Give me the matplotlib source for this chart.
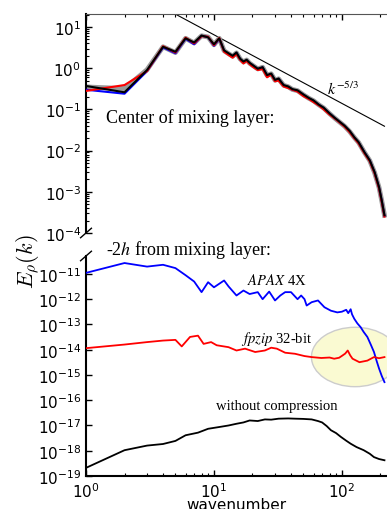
"""Two-panel density spectrum: centre of mixing layer vs -2h, with compression variants."""

import matplotlib

matplotlib.use("Agg")
import matplotlib.pyplot as plt
from matplotlib.patches import Ellipse

# --- top panel: centre of mixing layer -------------------------------------
k_top = [1, 2, 3, 4, 5, 6, 7, 8, 9, 10, 11, 12, 13, 14, 15, 16, 17, 18, 19, 20,
         22, 24, 26, 28, 30, 32, 35, 38, 41, 45, 50, 55, 60, 66, 72, 80, 88, 96,
         105, 115, 125, 135, 150, 165, 180, 195, 205, 215]
E_black = [0.37, 0.26, 0.90, 3.3, 2.5, 5.3, 4.2, 6.2, 5.6, 3.8, 5.3, 2.7, 2.3,
           2.0, 2.4, 1.7, 1.45, 1.6, 1.35, 1.2, 0.97, 1.06, 0.68, 0.74, 0.52,
           0.56, 0.39, 0.36, 0.31, 0.29, 0.23, 0.19, 0.165, 0.13, 0.11, 0.08,
           0.062, 0.05, 0.04, 0.03, 0.021, 0.016, 0.0091, 0.0058, 0.003,
           0.0013, 0.0006, 0.00027]
E_red = [0.28, 0.39, 0.85, 3.4, 2.4, 5.5, 4.0, 6.0, 5.8, 3.6, 5.4, 2.5, 2.1,
         1.8, 2.2, 1.6, 1.3, 1.5, 1.25, 1.1, 0.9, 0.95, 0.6, 0.7, 0.48, 0.5,
         0.36, 0.33, 0.3, 0.27, 0.21, 0.18, 0.15, 0.125, 0.1, 0.075, 0.06,
         0.048, 0.038, 0.028, 0.02, 0.015, 0.0086, 0.0055, 0.0028, 0.0012,
         0.00055, 0.00025]
E_blue = [0.30, 0.24, 0.85, 3.2, 2.3, 5.2, 3.8, 6.1, 5.7, 3.5, 5.2, 2.6, 2.2,
          1.95, 2.35, 1.65, 1.4, 1.55, 1.3, 1.18, 0.95, 1.04, 0.66, 0.72, 0.5,
          0.55, 0.38, 0.35, 0.3, 0.28, 0.225, 0.185, 0.16, 0.128, 0.108,
          0.079, 0.061, 0.049, 0.039, 0.029, 0.0205, 0.0155, 0.009, 0.0057,
          0.0029, 0.00125, 0.00058, 0.00026]
E_gray = [0.35, 0.32, 0.92, 3.3, 2.4, 5.3, 4.1, 6.1, 5.7, 3.7, 5.3, 2.65, 2.25,
          1.95, 2.35, 1.68, 1.42, 1.58, 1.32, 1.18, 0.96, 1.05, 0.67, 0.73,
          0.51, 0.55, 0.385, 0.355, 0.305, 0.285, 0.226, 0.187, 0.162, 0.129,
          0.108, 0.079, 0.061, 0.049, 0.039, 0.029, 0.0207, 0.0157, 0.009,
          0.0057, 0.0029, 0.00127, 0.00059, 0.00027]
ref_k = [5, 215]
ref_E = [20.5, 0.039]

# --- bottom panel: -2h from mixing layer -----------------------------------
k_apax = [1, 2, 3, 4, 5, 6, 7, 8, 9, 10, 12, 13, 15, 17, 19, 22, 24, 27, 30,
          33, 36, 40, 45, 48, 51, 53, 58, 65, 73, 82, 92, 100, 104, 108, 112,
          117, 120, 125, 132, 140, 148, 158, 168, 178, 187, 195, 205, 215]
E_apax = [1.1e-11, 2.7e-11, 1.95e-11, 2.3e-11, 1.7e-11, 8.9e-12, 5.0e-12,
          1.9e-12, 4.7e-12, 2.95e-12, 5.5e-12, 3.2e-12, 1.4e-12, 2.2e-12,
          1.6e-12, 1.9e-12, 1.0e-12, 2.0e-12, 8.9e-13, 1.4e-12, 1.9e-12,
          1.9e-12, 1.0e-12, 1.4e-12, 1.0e-12, 5.6e-13, 7.6e-13, 8.9e-13,
          4.8e-13, 3.5e-13, 3.0e-13, 3.2e-13, 3.5e-13, 3.8e-13, 2.8e-13,
          4.0e-13, 2.5e-13, 1.66e-13, 1.1e-13, 7.8e-14, 5.0e-14, 3.2e-14,
          1.6e-14, 8.1e-15, 3.5e-15, 1.8e-15, 9.0e-16, 5.2e-16]
k_fpzip = [1, 2, 3, 4, 5, 5.6, 6.5, 7.5, 8.3, 9.5, 10.5, 13, 15, 17.5, 21, 25,
           28, 31, 36, 43, 51, 58, 69, 80, 87, 95, 101, 106, 111, 116, 121,
           137, 158, 178, 195, 215]
E_fpzip = [1.15e-14, 1.6e-14, 2.0e-14, 2.3e-14, 2.45e-14, 1.35e-14, 3.2e-14,
           3.6e-14, 1.7e-14, 2.0e-14, 1.5e-14, 1.26e-14, 9.3e-15, 1.1e-14,
           8.1e-15, 9.3e-15, 1.2e-14, 1.1e-14, 7.6e-15, 6.9e-15, 5.6e-15,
           5.1e-15, 4.7e-15, 4.9e-15, 4.4e-15, 4.8e-15, 5.9e-15, 7.0e-15,
           9.3e-15, 6.0e-15, 4.4e-15, 3.2e-15, 3.7e-15, 5.1e-15, 4.6e-15,
           5.1e-15]
k_orig = [1, 2, 3, 4, 5, 6, 7.5, 9, 11, 13, 15, 17, 19, 22, 25, 28, 32, 38,
          43, 50, 58, 65, 70, 76, 82, 90, 98, 108, 117, 130, 148, 165, 178,
          195, 215]
E_orig = [2.1e-19, 1.05e-18, 1.6e-18, 1.85e-18, 2.45e-18, 4.1e-18, 5.2e-18,
          7.4e-18, 8.7e-18, 1.0e-17, 1.17e-17, 1.32e-17, 1.58e-17, 1.5e-17,
          1.74e-17, 1.7e-17, 1.86e-17, 1.9e-17, 1.86e-17, 1.82e-17, 1.74e-17,
          1.5e-17, 1.32e-17, 9.5e-18, 6.5e-18, 5.0e-18, 3.55e-18, 2.5e-18,
          1.9e-18, 1.4e-18, 1.05e-18, 7.6e-19, 5.6e-19, 4.7e-19, 4.2e-19]

SERIF = ["Liberation Serif", "DejaVu Serif"]

fig = plt.figure(figsize=(3.87, 5.10), dpi=100)
ax1 = fig.add_axes([0.2222, 0.5412, 0.7778, 0.4294])
ax2 = fig.add_axes([0.2222, 0.0647, 0.7778, 0.4314])

for ax in (ax1, ax2):
    ax.set_xscale("log")
    ax.set_yscale("log")
    ax.set_xlim(1, 225)
    ax.spines["right"].set_visible(False)
    ax.spines["left"].set_linewidth(1.5)
    ax.tick_params(which="both", direction="in", labelsize=11, right=False)
    ax.tick_params(which="major", length=4, width=1)
    ax.tick_params(which="minor", length=2, width=0.8)

# top panel
ax1.plot(k_top, E_gray, color="#999999", lw=3.5, zorder=2)
ax1.plot(k_top, E_blue, color="blue", lw=1.5, zorder=3)
ax1.plot(k_top, E_red, color="red", lw=1.5, zorder=4)
ax1.plot(k_top, E_black, color="black", lw=1.5, zorder=5)
ax1.plot(ref_k, ref_E, color="black", lw=0.8, zorder=1)
ax1.set_ylim(1e-4, 10 ** 1.315)
ax1.set_yticks([1e-4, 1e-3, 1e-2, 1e-1, 1e0, 1e1])
ax1.spines["bottom"].set_visible(False)
ax1.spines["top"].set_color("#555555")
ax1.tick_params(axis="x", which="both", bottom=False, top=True, labelbottom=False)
ax1.text(0.066, 0.53, "Center of mixing layer:", transform=ax1.transAxes,
         fontfamily=SERIF, fontsize=13, va="center", ha="left")
ax1.text(0.855, 0.66, r"$k^{-5/3}$", transform=ax1.transAxes,
         fontsize=11.5, math_fontfamily="stix", va="center", ha="center")

# bottom panel
ell = Ellipse((0.894, 0.541), 0.29, 0.27, transform=ax2.transAxes,
              facecolor="#fafad2", edgecolor="#cccccc", lw=1, zorder=1)
ax2.add_patch(ell)
ax2.plot(k_apax, E_apax, color="blue", lw=1.3, zorder=3)
ax2.plot(k_fpzip, E_fpzip, color="red", lw=1.3, zorder=3)
ax2.plot(k_orig, E_orig, color="black", lw=1.3, zorder=3)
ax2.set_ylim(1e-19, 10 ** -10.29)
ax2.set_yticks([10.0 ** e for e in range(-19, -10)])
ax2.yaxis.set_minor_locator(matplotlib.ticker.NullLocator())
ax2.spines["top"].set_visible(False)
ax2.spines["bottom"].set_linewidth(1.5)
ax2.tick_params(axis="x", which="both", top=False)
ax2.set_xlabel("wavenumber", fontsize=11, labelpad=-2)
ax2.text(0.066, 1.032, r"-2$h$ from mixing layer:", transform=ax2.transAxes,
         fontfamily=SERIF, fontsize=13, math_fontfamily="stix",
         va="center", ha="left")
ax2.text(0.633, 0.892, r"$\mathit{APAX}$ 4X", transform=ax2.transAxes,
         fontfamily=SERIF, fontsize=10.5, math_fontfamily="stix", ha="center", va="center")
ax2.text(0.633, 0.627, r"$\mathit{fpzip}$ 32-bit", transform=ax2.transAxes,
         fontfamily=SERIF, fontsize=10.5, math_fontfamily="stix", ha="center", va="center")
ax2.text(0.635, 0.32, "without compression", transform=ax2.transAxes,
         fontfamily=SERIF, fontsize=10.5, ha="center", va="center")

# broken-axis marks on the left spine
d = 0.018
ax1.plot([-d, d], [-d * 1.2, d * 1.2], transform=ax1.transAxes, color="black",
         lw=1, clip_on=False)
ax2.plot([-d, d], [1 - d * 1.2, 1 + d * 1.2], transform=ax2.transAxes,
         color="black", lw=1, clip_on=False)

fig.text(0.072, 0.486, r"$E_\rho(k)$", rotation=90, fontsize=16,
         math_fontfamily="cm", ha="center", va="center")

fig.savefig("out.png", dpi=100)
